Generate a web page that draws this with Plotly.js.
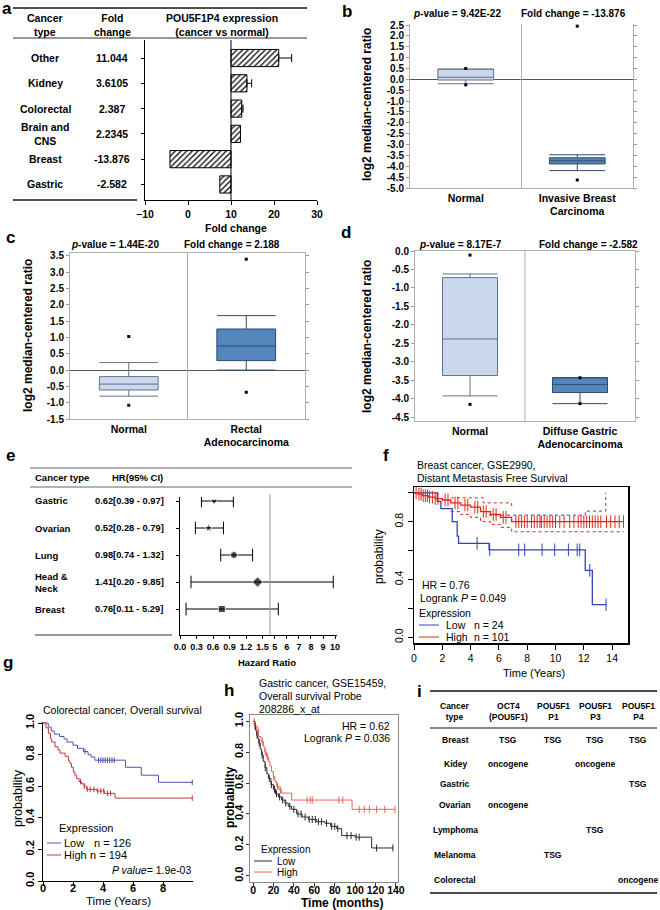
<!DOCTYPE html>
<html><head><meta charset="utf-8">
<script src="https://cdn.plot.ly/plotly-3.0.1.min.js"></script>
<style>html,body{margin:0;padding:0;background:#fff}</style>
</head><body><div id="chart" style="width:660px;height:910px"></div>
<script>
// ===== Panel a data =====
const aCancer = ['Other', 'Kidney', 'Colorectal', 'Brain and<br>CNS', 'Breast', 'Gastric'];
const aFoldText = ['11.044', '3.6105', '2.387', '2.2345', '-13.876', '-2.582'];
const aBarEnd = [21.1, 13.7, 12.5, 12.2, -4.2, 7.4];
const aErrPlus = [3.0, 1.1, 0.3, 0, 0, 0];
const aBase = 10;
const aTicks = [-10, 0, 10, 20, 30];

// ===== Panel b data =====
const bGroups = ['Normal', 'Invasive Breast<br>Carcinoma'];
const bQ1 = [-0.03, -3.89], bMed = [0.10, -3.75], bQ3 = [0.47, -3.61];
const bLow = [-0.20, -4.20], bHigh = [0.47, -3.47];
const bMin = [-0.25, -4.63], bMax = [0.50, 2.45];
const bP = '9.42E-22', bFC = '-13.876';
const bTicks = [2.5, 2.0, 1.5, 1.0, 0.5, 0.0, -0.5, -1.0, -1.5, -2.0, -2.5, -3.0, -3.5, -4.0, -4.5, -5.0];

// ===== Panel c data =====
const cGroups = ['Normal', 'Rectal<br>Adenocarcinoma'];
const cQ1 = [-0.61, 0.29], cMed = [-0.43, 0.74], cQ3 = [-0.20, 1.26];
const cLow = [-0.80, 0.00], cHigh = [0.23, 1.67];
const cMin = [-1.08, -0.68], cMax = [1.03, 3.40];
const cP = '1.44E-20', cFC = '2.188';
const cTicks = [3.5, 3.0, 2.5, 2.0, 1.5, 1.0, 0.5, 0.0, -0.5, -1.0, -1.5];

// ===== Panel d data =====
const dGroups = ['Normal', 'Diffuse Gastric<br>Adenocarcinoma'];
const dQ1 = [-3.37, -3.83], dMed = [-2.38, -3.61], dQ3 = [-0.72, -3.43];
const dLow = [-3.92, -4.13], dHigh = [-0.62, -3.43];
const dMin = [-4.15, -4.13], dMax = [-0.11, -3.43];
const dP = '8.17E-7', dFC = '-2.582';
const dTicks = [0.0, -0.5, -1.0, -1.5, -2.0, -2.5, -3.0, -3.5, -4.0, -4.5];

// ===== Panel e data =====
const eCancer = ['Gastric', 'Ovarian', 'Lung', 'Head &<br>Neck', 'Breast'];
const eHR = [0.62, 0.52, 0.98, 1.41, 0.76];
const eLo = [0.39, 0.28, 0.74, 0.20, 0.11];
const eHi = [0.97, 0.79, 1.32, 9.85, 5.29];
const eTicksLeft = [0.0, 0.3, 0.6, 0.9, 1.2, 1.5];
const eTicksRight = [5, 6, 7, 8, 9, 10];

// ===== Panel f data (Breast cancer, GSE2990) =====
const fLowT = [0, 1.65, 1.9, 2.7, 3.05, 3.15, 5.3, 12.1, 12.6, 13.6];
const fLowP = [1.0, 0.94, 0.89, 0.80, 0.70, 0.65, 0.605, 0.463, 0.225, 0.225];
const fLowCens = [4.46, 5.35, 7.4, 7.82, 9.05, 9.94, 10.91, 11.53, 11.71, 12.42, 13.57];
const fHighT = [0, 0.3, 0.6, 1.0, 1.5, 2.0, 2.6, 3.3, 4.0, 4.7, 5.4, 6.1, 6.9, 14.8];
const fHighP = [1.0, 0.99, 0.98, 0.97, 0.96, 0.95, 0.93, 0.915, 0.90, 0.87, 0.85, 0.83, 0.80, 0.80];
const fHighCens = [0.15, 0.35, 0.5, 0.65, 0.8, 0.95, 1.1, 1.3, 1.5, 1.7, 2.2, 2.4, 2.9, 3.1, 3.6, 3.8, 4.3, 4.5, 4.9, 5.1, 5.6, 5.8, 6.3, 6.5, 7.2, 7.4, 7.6, 7.8, 8.0, 8.3, 8.5, 8.7, 8.9, 9.0, 9.2, 9.4, 9.6, 9.8, 10.0, 10.3, 10.6, 11.0, 11.3, 11.6, 11.8, 12.0, 12.2, 12.4, 12.6, 12.8, 13.0, 13.2, 13.6, 13.9, 14.2, 14.5, 14.8];
const fHighUpperT = [2.6, 4.9, 6.9, 7.0], fHighUpperP = [0.965, 0.93, 0.90, 0.90];
const fHighLowerT = [2.6, 3.3, 4.0, 4.7, 5.4, 6.1, 6.9, 14.8], fHighLowerP = [0.87, 0.85, 0.83, 0.80, 0.78, 0.76, 0.73, 0.73];
const fLowUpperT = [5.3, 12.1, 13.55, 13.56], fLowUpperP = [0.845, 0.873, 1.0, 1.0];
const fHR = '0.76', fLogrank = '0.049', fNLow = 24, fNHigh = 101;

// ===== Panel g data (Colorectal cancer) =====
const gLowT = [0, 0.35, 0.55, 0.75, 1.1, 1.4, 1.6, 2.0, 2.3, 2.7, 3.0, 3.2, 3.45, 5.5, 6.55, 7.7, 9.95];
const gLowP = [1.0, 0.975, 0.95, 0.93, 0.915, 0.90, 0.88, 0.86, 0.84, 0.82, 0.80, 0.785, 0.765, 0.72, 0.67, 0.625, 0.625];
const gLowCens = [2.8, 3.7, 3.85, 4.0, 4.15, 4.3, 4.45, 4.6, 4.75, 9.95];
const gHighT = [0, 0.2, 0.36, 0.5, 0.58, 0.8, 1.0, 1.13, 1.47, 1.7, 1.8, 1.9, 2.02, 2.13, 2.24, 2.4, 2.58, 2.75, 2.91, 3.58, 4.1, 4.8, 9.95];
const gHighP = [1.0, 0.97, 0.935, 0.90, 0.88, 0.85, 0.83, 0.81, 0.79, 0.76, 0.745, 0.72, 0.69, 0.67, 0.65, 0.63, 0.615, 0.60, 0.58, 0.57, 0.555, 0.525, 0.525];
const gHighCens = [2.5, 2.75, 2.95, 3.15, 3.4, 3.65, 3.85, 4.05, 4.3, 4.5, 9.95];
const gNLow = 126, gNHigh = 194, gPval = '1.9e-03';

// ===== Panel h data (Gastric cancer, GSE15459) =====
const hLowT = [0, 1.5, 2.5, 3.5, 4.5, 5.5, 7, 8.4, 10, 11.7, 13.5, 15, 17.5, 19.9, 22, 24.8, 28, 31.3, 34.5, 37.8, 42.7, 48, 54.2, 62, 70.5, 76, 81.9, 86.8, 100, 116.2, 137.4];
const hLowP = [1.0, 0.97, 0.94, 0.91, 0.89, 0.86, 0.82, 0.78, 0.74, 0.70, 0.66, 0.63, 0.59, 0.56, 0.53, 0.51, 0.49, 0.47, 0.45, 0.43, 0.40, 0.38, 0.365, 0.35, 0.34, 0.32, 0.305, 0.26, 0.25, 0.18, 0.18];
const hLowCens = [2, 4, 6, 9, 12, 16, 18, 21, 23, 26, 29, 32, 36, 40, 44, 47, 51, 55, 58, 61, 64, 67, 72, 77, 80, 83, 92, 96, 101, 104, 121, 137];
const hHighT = [0, 2, 3.5, 5.5, 7.8, 10.1, 11.5, 13.3, 15, 16.6, 18, 19.9, 21.5, 23.1, 25.5, 28, 37.8, 97, 139];
const hHighP = [1.0, 0.97, 0.94, 0.90, 0.87, 0.835, 0.80, 0.77, 0.74, 0.71, 0.675, 0.64, 0.61, 0.58, 0.555, 0.535, 0.49, 0.43, 0.43];
const hHighCens = [1, 5, 9, 12, 14, 20, 24, 27, 53, 56, 58, 84, 88, 104, 109, 114, 121, 129, 139];
const hHR = '0.62', hLogrank = '0.036';

// ===== Panel i data =====
const iCols = ['Cancer<br>type', 'OCT4<br>(POU5F1)', 'POU5F1<br>P1', 'POU5F1<br>P3', 'POU5F1<br>P4'];
const iRows = ['Breast', 'Kidey', 'Gastric', 'Ovarian', 'Lymphoma', 'Melanoma', 'Colorectal'];
const iCells = [
  ['TSG', 'TSG', 'TSG', 'TSG'],
  ['oncogene', '', 'oncogene', ''],
  ['', '', '', 'TSG'],
  ['oncogene', '', '', ''],
  ['', '', 'TSG', ''],
  ['', 'TSG', '', ''],
  ['', '', '', 'oncogene']
];

// ===== helpers =====
const W = 660, H = 910;
const FONT = '"Liberation Sans", Arial, Helvetica, sans-serif';
const px = x => x / W;
const py = y => 1 - y / H;
const domX = (a, b) => [px(a), px(b)];
const domY = (top, bot) => [py(bot), py(top)];
function A(text, x, y, size, o) {
  o = o || {};
  return {
    text: text, x: px(x), y: py(y), xref: 'paper', yref: 'paper', showarrow: false,
    xanchor: o.xanchor || 'center', yanchor: 'middle', align: o.align || 'center',
    textangle: o.angle || 0,
    font: {family: FONT, size: size, color: o.color || '#000', weight: o.weight === undefined ? 700 : o.weight}
  };
}
function L(x0, y0, x1, y1, color, width, dash) {
  return {type: 'line', xref: 'paper', yref: 'paper', x0: px(x0), y0: py(y0), x1: px(x1), y1: py(y1),
    line: {color: color, width: width, dash: dash || 'solid'}};
}
function stepAt(T, P, t) { let p = P[0]; for (let i = 0; i < T.length; i++) if (T[i] <= t) p = P[i]; return p; }

const traces = [];
const annotations = [];
const shapes = [];

// ===== Panel a =====
traces.push({type: 'bar', orientation: 'h', y: aCancer, x: aBarEnd.map(v => v - aBase), base: aBase, width: 0.68,
  xaxis: 'x', yaxis: 'y', hoverinfo: 'skip',
  marker: {color: '#fff', line: {color: '#000', width: 1}, pattern: {shape: '/', fgcolor: '#000', bgcolor: '#fff', size: 4, solidity: 0.3}}});
const aIdx = aErrPlus.map((e, i) => i).filter(i => aErrPlus[i] > 0);
traces.push({type: 'scatter', mode: 'markers', x: aIdx.map(i => aBarEnd[i]), y: aIdx.map(i => aCancer[i]),
  xaxis: 'x', yaxis: 'y', marker: {size: 1, opacity: 0}, hoverinfo: 'skip',
  error_x: {type: 'data', symmetric: false, array: aIdx.map(i => aErrPlus[i]), arrayminus: aIdx.map(() => 0), color: '#000', thickness: 1, width: 4}});
shapes.push({type: 'line', xref: 'x', yref: 'y domain', x0: aBase, x1: aBase, y0: 0, y1: 1, line: {color: '#000', width: 1}});
shapes.push(L(13, 8, 307, 8, '#111', 1.5), L(13, 38, 307, 38, '#333', 1), L(13, 200, 137, 200, '#111', 1.5));
annotations.push(A('a', 7, 9, 17));
annotations.push(A('Cancer<br>type', 45, 25, 10.5), A('Fold<br>change', 112, 25, 10.5), A('POU5F1P4 expression<br>(cancer vs normal)', 222, 25, 10.5));
aCancer.forEach((c, i) => {
  const n = A(c, 45, 0, 10.5); n.yref = 'y'; n.y = i; annotations.push(n);
  const f = A(aFoldText[i], 112, 0, 10.5); f.yref = 'y'; f.y = i; annotations.push(f);
});
annotations.push(A('Fold change', 236, 228, 10.5));

// ===== box panels b, c, d =====
function boxTraces(groups, q1, med, q3, lo, hi, mn, mx, xa, ya) {
  const fills = ['#c9d8ea', '#5485bd'];
  const lines = ['#62728c', '#2f4a6e'];
  groups.forEach((g, i) => {
    traces.push({type: 'box', x: [g], q1: [q1[i]], median: [med[i]], q3: [q3[i]], lowerfence: [lo[i]], upperfence: [hi[i]],
      xaxis: xa, yaxis: ya, fillcolor: fills[i], line: {color: lines[i], width: 1}, width: 0.5, whiskerwidth: 1,
      boxpoints: false, hoverinfo: 'skip'});
  });
  traces.push({type: 'scatter', mode: 'markers', x: groups.concat(groups), y: mn.concat(mx), xaxis: xa, yaxis: ya,
    marker: {symbol: 'square', size: 3, color: '#000'}, hoverinfo: 'skip'});
}
boxTraces(bGroups, bQ1, bMed, bQ3, bLow, bHigh, bMin, bMax, 'x2', 'y2');
boxTraces(cGroups, cQ1, cMed, cQ3, cLow, cHigh, cMin, cMax, 'x3', 'y3');
boxTraces(dGroups, dQ1, dMed, dQ3, dLow, dHigh, dMin, dMax, 'x4', 'y4');
[2, 3, 4].forEach(n => shapes.push({type: 'line', xref: 'x' + n, yref: 'y' + n + ' domain', x0: 0.5, x1: 0.5, y0: 0, y1: 1, line: {color: '#b0b0b0', width: 1}}));
annotations.push(A('b', 347, 12, 17), A('<i>p</i>-value = ' + bP, 457, 14, 10), A('Fold change = ' + bFC, 573, 14, 10),
  A('log2 median-centered ratio', 367, 105, 12, {angle: -90}));
annotations.push(A('c', 10, 238, 17), A('<i>p</i>-value = ' + cP, 115, 245, 10), A('Fold change = ' + cFC, 232, 245, 10),
  A('log2 median-centered ratio', 28, 336, 12, {angle: -90}));
annotations.push(A('d', 346, 233, 17), A('<i>p</i>-value = ' + dP, 460, 245, 10), A('Fold change = ' + dFC, 588, 245, 10),
  A('log2 median-centered ratio', 367, 337, 12, {angle: -90}));

// ===== Panel e =====
const eX = [], eY = [];
eCancer.forEach((c, i) => { eX.push(eLo[i], eHi[i], null); eY.push(c, c, null); });
['x5', 'x6'].forEach(xa => traces.push({type: 'scatter', mode: 'lines+markers', x: eX, y: eY, xaxis: xa, yaxis: 'y5',
  line: {color: '#000', width: 1}, marker: {symbol: 'line-ns-open', size: 9, color: '#000', line: {color: '#000', width: 1}}, hoverinfo: 'skip'}));
traces.push({type: 'scatter', mode: 'markers', x: eHR, y: eCancer, xaxis: 'x5', yaxis: 'y5', hoverinfo: 'skip',
  marker: {symbol: ['triangle-down', 'star', 'circle', 'diamond', 'square'], size: [7, 7, 7, 8, 7], color: '#000'}});
shapes.push(L(30, 468, 352, 468, '#666', 1.2), L(30, 487, 352, 487, '#666', 1.2), L(35, 635, 172, 635, '#333', 1.2), L(270, 494, 270, 635, '#999', 1));
annotations.push(A('e', 10, 455, 17), A('Cancer type', 33, 477, 9.5, {xanchor: 'left'}), A('HR(95% CI)', 110, 477, 9.5, {xanchor: 'left'}));
eCancer.forEach((c, i) => {
  const n = A(c, 33, 0, 9.5, {xanchor: 'left', align: 'left'}); n.yref = 'y5'; n.y = i; annotations.push(n);
  const t = eHR[i].toFixed(2) + '[' + eLo[i].toFixed(2) + ' - ' + eHi[i].toFixed(2) + ']';
  const m = A(t, 93, 0, 9.3, {xanchor: 'left'}); m.yref = 'y5'; m.y = i; annotations.push(m);
});
annotations.push(A('Hazard Ratio', 267, 662, 9.5));

// ===== KM helpers =====
function km(T, P, xa, ya, color, width, dash) {
  return {type: 'scatter', mode: 'lines', x: T, y: P, xaxis: xa, yaxis: ya, hoverinfo: 'skip',
    line: {shape: 'hv', color: color, width: width, dash: dash || 'solid'}};
}
function cens(T, P, tc, xa, ya, color, size) {
  return {type: 'scatter', mode: 'markers', x: tc, y: tc.map(t => stepAt(T, P, t)), xaxis: xa, yaxis: ya, hoverinfo: 'skip',
    marker: {symbol: 'line-ns-open', size: size, color: color, line: {color: color, width: 1}}};
}

// ===== Panel f =====
const fBlue = '#3443b8', fRed = '#e8231c';
traces.push(km(fHighUpperT, fHighUpperP, 'x7', 'y7', fRed, 1, 'dot'), km(fHighLowerT, fHighLowerP, 'x7', 'y7', fRed, 1, 'dot'),
  km(fLowUpperT, fLowUpperP, 'x7', 'y7', fBlue, 1, 'dot'));
traces.push(km(fLowT, fLowP, 'x7', 'y7', fBlue, 1.3), km(fHighT, fHighP, 'x7', 'y7', fRed, 1.3));
traces.push(cens(fLowT, fLowP, fLowCens, 'x7', 'y7', fBlue, 9), cens(fHighT, fHighP, fHighCens, 'x7', 'y7', fRed, 9));
shapes.push(L(419, 625, 439, 625, fBlue, 1), L(419, 637, 439, 637, fRed, 1));
annotations.push(A('f', 386, 455, 17),
  A('Breast cancer, GSE2990,', 415, 465, 10.5, {xanchor: 'left', weight: 400}),
  A('Distant Metastasis Free Survival', 415, 478, 10.5, {xanchor: 'left', weight: 400}),
  A('HR = ' + fHR, 420, 585, 10.5, {xanchor: 'left', weight: 400}),
  A('Logrank <i>P</i> = ' + fLogrank, 418, 598, 10.5, {xanchor: 'left', weight: 400}),
  A('Expression', 417, 613, 10.5, {xanchor: 'left', weight: 400}),
  A('Low', 444, 625, 10.5, {xanchor: 'left', weight: 400}), A('n = ' + fNLow, 472, 625, 10.5, {xanchor: 'left', weight: 400}),
  A('High', 444, 637, 10.5, {xanchor: 'left', weight: 400}), A('n = ' + fNHigh, 472, 637, 10.5, {xanchor: 'left', weight: 400}),
  A('probability', 379, 557, 12, {angle: -90, weight: 400}),
  A('Time (Years)', 534, 673, 11, {weight: 400}));

// ===== Panel g =====
const gBlue = '#5252b3', gRed = '#c23b3b';
traces.push(km(gLowT, gLowP, 'x8', 'y8', gBlue, 1), km(gHighT, gHighP, 'x8', 'y8', gRed, 1));
traces.push(cens(gLowT, gLowP, gLowCens, 'x8', 'y8', gBlue, 4), cens(gHighT, gHighP, gHighCens, 'x8', 'y8', gRed, 4));
shapes.push(L(47, 843, 61, 843, gBlue, 1), L(47, 855, 61, 855, gRed, 1));
annotations.push(A('g', 8, 662, 17),
  A('Colorectal cancer, Overall survival', 122, 710, 10.5, {weight: 400}),
  A('Expression', 57, 828, 11, {xanchor: 'left', weight: 400}),
  A('Low', 62, 843, 11, {xanchor: 'left', weight: 400}), A('n = ' + gNLow, 92, 843, 11, {xanchor: 'left', weight: 400}),
  A('High', 62, 855, 11, {xanchor: 'left', weight: 400}), A('n = ' + gNHigh, 88, 855, 11, {xanchor: 'left', weight: 400}),
  A('<i>P value</i>= ' + gPval, 193, 870, 10.5, {xanchor: 'right', weight: 400}),
  A('probability', 18, 798, 12.5, {angle: -90, weight: 400}),
  A('Time (Years)', 118, 901, 11.5, {weight: 400}));

// ===== Panel h =====
const hBlack = '#2a2a2a', hRed = '#e8645a';
traces.push(km(hLowT, hLowP, 'x9', 'y9', hBlack, 1), km(hHighT, hHighP, 'x9', 'y9', hRed, 1));
traces.push(cens(hLowT, hLowP, hLowCens, 'x9', 'y9', hBlack, 5), cens(hHighT, hHighP, hHighCens, 'x9', 'y9', hRed, 5));
shapes.push(L(254, 861, 272, 861, hBlack, 1), L(254, 872, 272, 872, hRed, 1));
annotations.push(A('h', 229, 690, 17),
  A('Gastric cancer, GSE15459,', 257, 683, 10.5, {xanchor: 'left', weight: 400}),
  A('Overall survival Probe', 257, 696, 10.5, {xanchor: 'left', weight: 400}),
  A('208286_x_at', 257, 709, 10.5, {xanchor: 'left', weight: 400}),
  A('HR = ' + hHR, 392, 726, 10.5, {xanchor: 'right', weight: 400}),
  A('Logrank <i>P</i> = ' + hLogrank, 392, 738, 10.5, {xanchor: 'right', weight: 400}),
  A('Expression', 259, 849, 10, {xanchor: 'left', weight: 400}),
  A('Low', 275, 861, 10, {xanchor: 'left', weight: 400}),
  A('High', 275, 872.5, 10, {xanchor: 'left', weight: 400}),
  A('probability', 230, 797, 12, {angle: -90}),
  A('Time (months)', 342, 903, 12));

// ===== Panel i (table) =====
const iColX = [455, 508, 553, 595, 638];
const iRowY = [740, 764, 784, 805, 830, 855, 880];
shapes.push(L(430, 691, 657, 691, '#111', 1.5), L(430, 728, 657, 728, '#111', 1.2), L(430, 893, 657, 893, '#111', 1.5));
annotations.push(A('i', 419, 691, 17));
iCols.forEach((c, j) => annotations.push(A(c, iColX[j], 711, 8.5)));
iRows.forEach((r, k) => {
  annotations.push(A(r, iColX[0], iRowY[k], 8.5));
  iCells[k].forEach((v, j) => { if (v) annotations.push(A(v, iColX[j + 1], iRowY[k], 8.5)); });
});

// ===== axes =====
const tf = (s, w) => ({family: FONT, size: s, color: '#000', weight: w});
function boxAxes(n, groups, xd, yd, yr, ticks, mirrorX) {
  const o = {};
  o['xaxis' + n] = {domain: xd, anchor: 'y' + n, type: 'category', categoryorder: 'array', categoryarray: groups, range: [-0.5, 1.5],
    showline: true, linecolor: '#b0b0b0', linewidth: 1, mirror: mirrorX, ticks: '', showgrid: false, zeroline: false, tickfont: tf(10.5, 700)};
  o['yaxis' + n] = {domain: yd, anchor: 'x' + n, range: yr, tickvals: ticks, ticktext: ticks.map(v => v.toFixed(1)),
    showline: true, linecolor: '#b0b0b0', mirror: 'ticks', ticks: 'outside', ticklen: 3, tickcolor: '#999', showgrid: false,
    zeroline: true, zerolinecolor: '#555', zerolinewidth: 1, tickfont: tf(10, 700)};
  return o;
}
const layout = Object.assign({
  width: W, height: H, margin: {l: 0, r: 0, t: 0, b: 0}, showlegend: false,
  paper_bgcolor: '#fff', plot_bgcolor: 'rgba(0,0,0,0)', font: {family: FONT, color: '#000'},
  xaxis: {domain: domX(145, 317), anchor: 'y', range: [-10, 30], tickvals: aTicks, showline: true, linecolor: '#000', ticks: 'outside',
    ticklen: 4, tickcolor: '#000', showgrid: false, zeroline: false, tickfont: tf(10.5, 700)},
  yaxis: {domain: domY(40, 200), anchor: 'x', type: 'category', categoryorder: 'array', categoryarray: aCancer, range: [5.615, -0.713],
    showline: true, linecolor: '#000', ticks: 'outside', ticklen: 3, tickcolor: '#000', showticklabels: false, showgrid: false},
  xaxis5: {domain: domX(180, 270), anchor: 'y5', range: [0, 1.636], tickvals: eTicksLeft, ticktext: eTicksLeft.map(v => v.toFixed(1)),
    showline: true, linecolor: '#000', ticks: 'outside', ticklen: 3, tickcolor: '#000', showgrid: false, zeroline: false, tickfont: tf(9, 700)},
  xaxis6: {domain: domX(270, 337), anchor: 'y5', range: [4.6, 10.16], tickvals: eTicksRight,
    showline: true, linecolor: '#000', ticks: 'outside', ticklen: 3, tickcolor: '#000', showgrid: false, zeroline: false, tickfont: tf(9, 700)},
  yaxis5: {domain: domY(497, 635), anchor: 'x5', type: 'category', categoryorder: 'array', categoryarray: eCancer, range: [4.963, -0.148],
    showline: true, linecolor: '#000', ticks: 'outside', ticklen: 3, tickcolor: '#000', showticklabels: false, showgrid: false},
  xaxis7: {domain: domX(414, 628), anchor: 'y7', range: [0, 15.12], tickvals: [0, 2, 4, 6, 8, 10, 12, 14], showline: true, mirror: true,
    linecolor: '#000', linewidth: 1.5, ticks: 'outside', ticklen: 5, tickcolor: '#000', showgrid: false, zeroline: false, tickfont: tf(10.5, 400)},
  yaxis7: {domain: domY(487, 643), anchor: 'x7', range: [-0.04, 1.04], tickvals: [0, 0.2, 0.4, 0.6, 0.8, 1.0], ticktext: ['0.0', '', '0.4', '', '0.8', ''],
    tickangle: -90, showline: true, mirror: true, linecolor: '#000', linewidth: 1.5, ticks: 'outside', ticklen: 5, tickcolor: '#000',
    showgrid: false, zeroline: false, tickfont: tf(10.5, 400)},
  xaxis8: {domain: domX(43, 193), anchor: 'y8', range: [0, 10], tickvals: [0, 2, 4, 6, 8], showline: true, linecolor: '#000',
    ticks: 'outside', ticklen: 4, tickcolor: '#000', showgrid: false, zeroline: false, tickfont: tf(11, 700), ticklabelstandoff: -7},
  yaxis8: {domain: domY(721.5, 881), anchor: 'x8', range: [0, 1.01], tickvals: [0, 0.2, 0.4, 0.6, 0.8, 1.0], ticktext: ['0.0', '0.2', '0.4', '0.6', '0.8', '1.0'],
    tickangle: -90, showline: true, linecolor: '#000', ticks: 'outside', ticklen: 4, tickcolor: '#000', showgrid: false, zeroline: false, tickfont: tf(11, 700)},
  xaxis9: {domain: domX(250, 398), anchor: 'y9', range: [-3, 142], tickvals: [0, 20, 40, 60, 80, 100, 120, 140], showline: true, mirror: true,
    linecolor: '#888', ticks: 'outside', ticklen: 4, tickcolor: '#333', showgrid: false, zeroline: false, tickfont: tf(10.5, 700), ticklabelstandoff: -6},
  yaxis9: {domain: domY(715, 882), anchor: 'x9', range: [-0.04, 1.04], tickvals: [0, 0.2, 0.4, 0.6, 0.8, 1.0], ticktext: ['0.0', '0.2', '0.4', '0.6', '0.8', '1.0'],
    tickangle: -90, showline: true, mirror: true, linecolor: '#888', ticks: 'outside', ticklen: 3, tickcolor: '#333', showgrid: false, zeroline: false,
    tickfont: tf(11, 700), ticklabelstandoff: -1},
  annotations: annotations, shapes: shapes
},
  boxAxes(2, bGroups, domX(410, 633), domY(24, 188), [-5.0, 2.55], bTicks, false),
  boxAxes(3, cGroups, domX(70, 305), domY(253, 419), [-1.5, 3.59], cTicks, true),
  boxAxes(4, dGroups, domX(415, 635), domY(251, 421), [-4.6, 0.0], dTicks, true)
);

Plotly.newPlot('chart', traces, layout, {staticPlot: true, displayModeBar: false});
</script></body></html>
